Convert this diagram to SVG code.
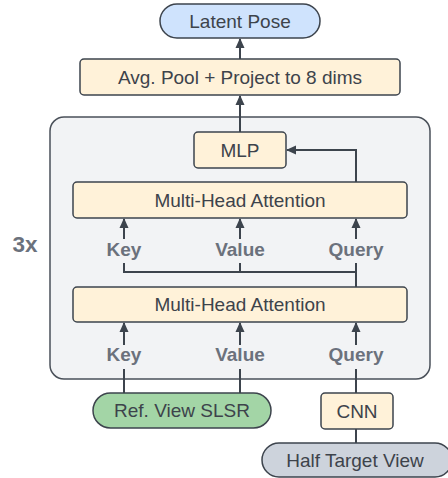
<svg xmlns="http://www.w3.org/2000/svg" width="448" height="478" viewBox="0 0 448 478">
<defs>
<style>
.n{stroke:#3d444d;stroke-width:1.5}
.cream{fill:#fff2d9}
.t{font-family:"Liberation Sans",Arial,sans-serif;font-size:19px;fill:#3d434b;text-anchor:middle}
.l{font-family:"Liberation Sans",Arial,sans-serif;font-size:19px;font-weight:bold;fill:#6b717c;text-anchor:middle}
.c{fill:none;stroke:#3d444d;stroke-width:2}
</style>
<marker id="ah" viewBox="0 0 10 10" refX="9" refY="5" markerWidth="10" markerHeight="10" markerUnits="userSpaceOnUse" orient="auto">
<path d="M0 0.5 L10 5 L0 9.5 Z" fill="#3d444d"/>
</marker>
</defs>
<g id="container">
<rect x="50" y="117" width="380" height="262" rx="14" fill="#f2f3f5" stroke="#4a5059" stroke-width="1.5"/>
</g>
<g id="repeat-label"><text class="l" x="25" y="251.5" style="font-size:22.5px">3x</text></g>
<g id="connectors">
<path class="c" d="M240 59 V39" marker-end="url(#ah)"/>
<path class="c" d="M240 132 V96" marker-end="url(#ah)"/>
<path class="c" d="M356 182 V150 H287" marker-end="url(#ah)"/>
<path class="c" d="M124 239 V219" marker-end="url(#ah)"/>
<path class="c" d="M240 239 V219" marker-end="url(#ah)"/>
<path class="c" d="M356 239 V219" marker-end="url(#ah)"/>
<path class="c" d="M356 287 V263 M124 263 V272 H356 M240 263 V272"/>
<path class="c" d="M124 345 V323" marker-end="url(#ah)"/>
<path class="c" d="M240 345 V323" marker-end="url(#ah)"/>
<path class="c" d="M356 345 V323" marker-end="url(#ah)"/>
<path class="c" d="M124 369 V393 M240 369 V393 M356 369 V393 M356 429 V443"/>
</g>
<g id="latent-pose">
<rect class="n" x="160" y="4" width="160" height="34" rx="17" fill="#cfe3fd"/>
<text class="t" x="240" y="27.5">Latent Pose</text>
</g>
<g id="avg-pool">
<rect class="n cream" x="80" y="59" width="320" height="36" rx="4"/>
<text class="t" x="240" y="83.5">Avg. Pool + Project to 8 dims</text>
</g>
<g id="mlp">
<rect class="n cream" x="194" y="132" width="92" height="36" rx="4"/>
<text class="t" x="240" y="156.5">MLP</text>
</g>
<g id="mha-top">
<rect class="n cream" x="73" y="182" width="334" height="36" rx="4"/>
<text class="t" x="240" y="206.5">Multi-Head Attention</text>
</g>
<g id="labels-top">
<text class="l" x="124" y="256">Key</text>
<text class="l" x="240" y="256">Value</text>
<text class="l" x="356" y="256">Query</text>
</g>
<g id="mha-bottom">
<rect class="n cream" x="73" y="287" width="334" height="35" rx="4"/>
<text class="t" x="240" y="311">Multi-Head Attention</text>
</g>
<g id="labels-bottom">
<text class="l" x="124" y="361">Key</text>
<text class="l" x="240" y="361">Value</text>
<text class="l" x="356" y="361">Query</text>
</g>
<g id="ref-view">
<rect class="n" x="93" y="393" width="178" height="35" rx="17.5" fill="#a3d5a6"/>
<text class="t" x="182" y="417">Ref. View SLSR</text>
</g>
<g id="cnn">
<rect class="n cream" x="321" y="393" width="72" height="36" rx="4"/>
<text class="t" x="357" y="417.5">CNN</text>
</g>
<g id="half-target">
<rect class="n" x="262" y="443" width="190" height="34" rx="17" fill="#cdd3dc"/>
<text class="t" x="355" y="466.5">Half Target View</text>
</g>
</svg>
